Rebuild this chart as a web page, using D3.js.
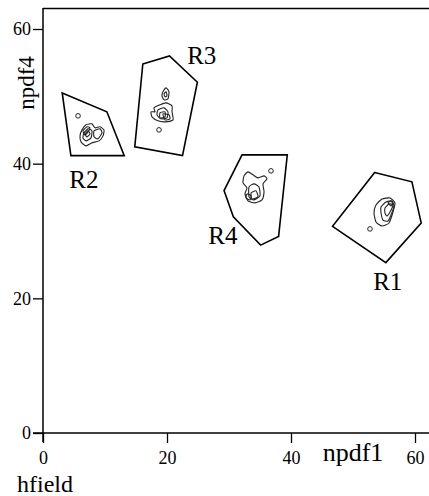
<!DOCTYPE html>
<html><head><meta charset="utf-8">
<script src="https://cdn.jsdelivr.net/npm/d3@7"></script>
<style>body{margin:0;background:#fff}svg{display:block}text{font-family:"Liberation Serif","Times New Roman",serif;fill:#000}</style>
</head><body>
<script>
const xTicks = [0, 20, 40, 60];
const yTicks = [0, 20, 40, 60];
const regionNames = ["R1", "R2", "R3", "R4"];
const regionLabelPos = [[55.6, 21.3], [6.6, 36.4], [25.6, 54.8], [29.0, 28.0]];
const polyR1 = [[53.5, 38.7], [59.5, 37.3], [61.0, 31.2], [55.3, 25.3], [46.7, 30.7]];
const polyR2 = [[3.1, 50.5], [10.3, 47.7], [13.1, 41.2], [4.5, 41.2]];
const polyR3 = [[16.1, 54.8], [20.4, 56.0], [24.9, 52.1], [22.5, 41.2], [14.8, 42.5]];
const polyR4 = [[32.1, 41.3], [39.4, 41.3], [38.0, 29.2], [35.1, 27.9], [30.7, 32.1], [29.2, 36.0]];
const contoursR1 = [
  [[53.71,33.86],[54.68,34.75],[55.97,34.90],[56.77,34.16],[56.45,32.82],[55.81,31.19],[54.68,30.74],[53.71,31.34],[53.39,32.68]],
  [[54.52,33.56],[55.32,34.31],[56.29,34.46],[56.61,33.71],[56.13,32.37],[55.65,31.48],[54.84,31.63],[54.52,32.67]],
  [[55.16,33.41],[55.81,34.01],[56.45,33.86],[55.97,32.82],[55.48,32.22],[55.16,32.67]],
  [[55.65,34.16],[56.13,34.46],[56.45,34.01],[56.13,33.71]]
];
const contoursR2 = [
  [[6.29,45.02],[6.94,45.77],[7.90,45.91],[8.39,45.32],[9.19,45.47],[9.84,45.02],[9.68,44.13],[9.03,43.39],[7.90,43.09],[6.94,42.64],[6.13,43.24],[5.97,44.13]],
  [[6.61,44.58],[7.26,45.17],[7.90,44.88],[7.74,43.83],[6.94,43.39],[6.45,43.83]],
  [[6.77,44.43],[7.26,44.87],[7.58,44.43],[7.10,43.98]],
  [[8.23,44.87],[9.19,45.17],[9.52,44.58],[8.87,43.69],[8.23,43.98]],
  [[6.45,44.87],[7.10,45.47],[7.58,45.32],[7.26,44.72],[6.77,44.28]]
];
const contoursR3 = [
  [[19.35,50.67],[19.84,51.26],[20.32,50.67],[20.16,49.63],[19.52,49.48],[19.19,50.07]],
  [[19.52,50.37],[19.84,50.67],[20.00,50.07],[19.68,49.93]],
  [[17.90,48.29],[18.87,48.74],[19.84,49.03],[20.81,48.59],[20.81,47.70],[20.97,46.51],[19.68,46.21],[18.55,46.36],[17.58,46.95],[17.42,47.70],[18.06,47.70]],
  [[18.55,47.99],[19.52,48.29],[20.16,47.70],[20.00,46.81],[19.03,46.66],[18.39,47.25]],
  [[18.87,47.55],[19.68,47.70],[19.68,46.95],[18.87,46.81]],
  [[19.35,47.40],[20.32,47.25],[20.48,46.66],[19.68,46.51]]
];
const contoursR4 = [
  [[32.42,38.19],[33.06,38.78],[33.87,38.34],[34.68,37.89],[35.65,38.19],[36.13,37.74],[35.48,37.00],[35.65,35.81],[35.32,34.62],[34.19,34.18],[33.06,34.47],[32.58,35.51],[32.90,36.40],[32.26,37.15]],
  [[33.23,36.55],[34.03,37.00],[34.84,36.55],[35.00,35.22],[34.03,34.62],[33.23,35.07]],
  [[33.55,35.66],[34.35,35.96],[34.68,35.07],[33.71,34.77]],
  [[32.90,35.51],[33.55,35.22],[33.39,34.62],[32.74,34.92]]
];
const peakPoints = [[52.74, 30.31], [5.65, 47.10], [18.71, 45.02], [36.77, 38.93]];

const W = 429, H = 496;
const svg = d3.select("body").append("svg").attr("width", W).attr("height", H);
const x = d3.scaleLinear().domain([0, 60]).range([43, 415]);
const y = d3.scaleLinear().domain([0, 60]).range([433, 29]);

// top frame line
svg.append("line").attr("x1", x(0)).attr("x2", W).attr("y1", 8.5).attr("y2", 8.5)
  .attr("stroke", "#000").attr("stroke-width", 1.5);

// x axis
const gx = svg.append("g").attr("transform", `translate(0,${y(0)})`)
  .call(d3.axisBottom(x).tickValues(xTicks).tickSize(10).tickPadding(8).tickFormat(d3.format("d")));
gx.select(".domain").remove();
gx.append("line").attr("x1", 33).attr("x2", W).attr("stroke", "#000").attr("stroke-width", 1.5);
gx.selectAll(".tick line").attr("stroke-width", 1.3);
gx.selectAll(".tick text").attr("font-size", 18).attr("font-family", "Liberation Serif").attr("fill", "#000");

// y axis
const gy = svg.append("g").attr("transform", `translate(${x(0)},0)`)
  .call(d3.axisLeft(y).tickValues(yTicks).tickSize(10).tickPadding(2).tickFormat(d3.format("d")));
gy.select(".domain").remove();
gy.append("line").attr("y1", 8).attr("y2", 442).attr("stroke", "#000").attr("stroke-width", 1.5);
gy.selectAll(".tick line").attr("stroke-width", 1.3);
gy.selectAll(".tick text").attr("font-size", 18).attr("font-family", "Liberation Serif").attr("fill", "#000");

// labels
svg.append("text").attr("transform", "translate(34,83) rotate(-90)").attr("text-anchor", "middle")
  .attr("font-size", 23).text("npdf4");
svg.append("text").attr("x", 353).attr("y", 461).attr("text-anchor", "middle")
  .attr("font-size", 26).text("npdf1");
svg.append("text").attr("x", 17).attr("y", 492).attr("font-size", 24).text("hfield");

// polygons
const polys = [polyR1, polyR2, polyR3, polyR4];
const lineClosed = d3.line().x(d => x(d[0])).y(d => y(d[1])).curve(d3.curveLinearClosed);
svg.append("g").selectAll("path").data(polys).join("path")
  .attr("d", lineClosed).attr("fill", "none").attr("stroke", "#000").attr("stroke-width", 1.6);

// contours
const smooth = d3.line().x(d => x(d[0])).y(d => y(d[1])).curve(d3.curveCardinalClosed.tension(0.4));
const allContours = [].concat(contoursR1, contoursR2, contoursR3, contoursR4);
svg.append("g").selectAll("path").data(allContours).join("path")
  .attr("d", smooth).attr("fill", "none").attr("stroke", "#222").attr("stroke-width", 1.1);

// peak markers
svg.append("g").selectAll("circle").data(peakPoints).join("circle")
  .attr("cx", d => x(d[0])).attr("cy", d => y(d[1])).attr("r", 2.3)
  .attr("fill", "none").attr("stroke", "#222").attr("stroke-width", 1);

// region labels
svg.append("g").selectAll("text").data(regionNames).join("text")
  .attr("x", (d, i) => x(regionLabelPos[i][0])).attr("y", (d, i) => y(regionLabelPos[i][1]))
  .attr("text-anchor", "middle").attr("font-size", 25).text(d => d);
</script>
</body></html>
